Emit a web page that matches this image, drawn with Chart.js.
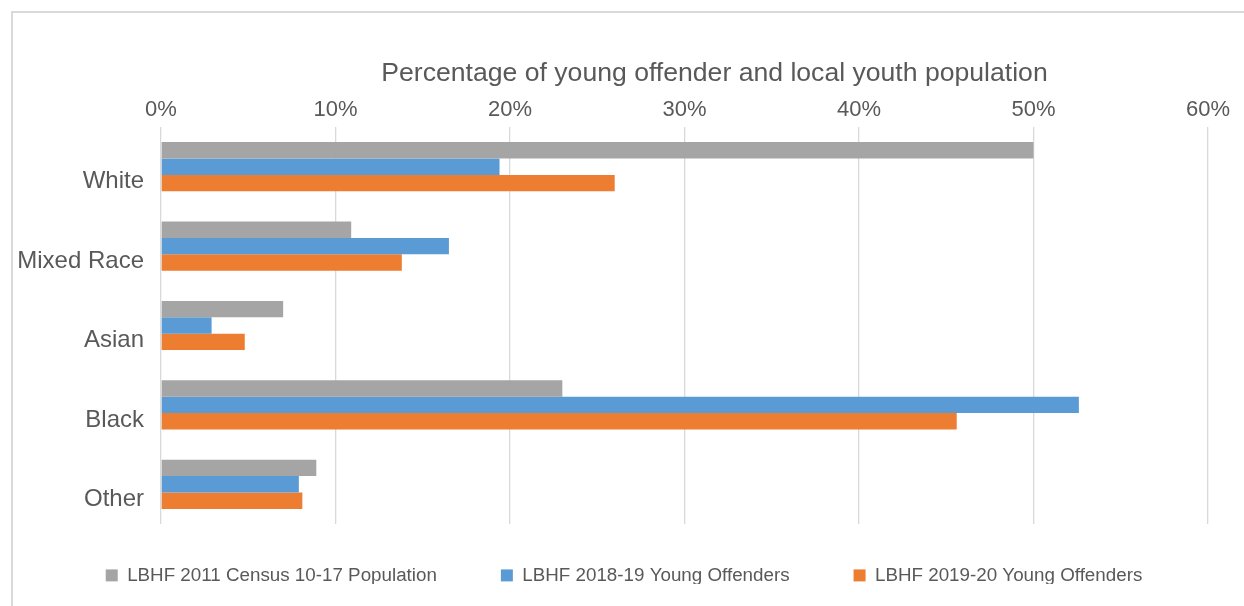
<!DOCTYPE html>
<html>
<head>
<meta charset="utf-8">
<script src="https://cdn.jsdelivr.net/npm/chart.js@4.4.1/dist/chart.umd.min.js"></script>
<style>
  html, body { margin: 0; padding: 0; background: #fff; }
  #wrap { position: relative; width: 1244px; height: 606px; overflow: hidden; }
  /* the light frame round the chart, cut off on the right and bottom like the original */
  #frame { position: absolute; left: 11px; top: 11px; width: 1300px; height: 700px;
           border: 2px solid #d9d9d9; box-sizing: border-box; }
  #chart { position: absolute; left: 0; top: 0; }
</style>
</head>
<body>
<div id="wrap">
  <div id="frame"></div>
  <canvas id="chart" width="1244" height="606"></canvas>
</div>
<script>
// ---- data (percent) ----
const categories = ['White', 'Mixed Race', 'Asian', 'Black', 'Other'];
const census2011 = [50.0, 10.9, 7.0, 23.0, 8.9];
const offenders1819 = [19.4, 16.5, 2.9, 52.6, 7.9];
const offenders1920 = [26.0, 13.8, 4.8, 45.6, 8.1];
const seriesLabels = [
  'LBHF 2011 Census 10-17 Population',
  'LBHF 2018-19 Young Offenders',
  'LBHF 2019-20 Young Offenders'
];
const xTicks = [0, 10, 20, 30, 40, 50, 60];
const chartTitleText = 'Percentage of young offender and local youth population';

const FONT = '"Liberation Sans", Arial, sans-serif';
const TEXT = '#595959';

// title is drawn a bit right of centre, as in the original
const chartTitle = {
  id: 'chartTitle',
  afterDraw(chart) {
    const { ctx, chartArea } = chart;
    ctx.save();
    ctx.font = '26.6px ' + FONT;
    ctx.fillStyle = TEXT;
    ctx.textAlign = 'center';
    ctx.textBaseline = 'middle';
    ctx.fillText(chartTitleText, (chartArea.left + chartArea.right) / 2 + 30, chartArea.top - 53);
    ctx.restore();
  }
};

// keep the legend a fixed height and drop its row to sit low, below the plot
const legendSpot = {
  id: 'legendSpot',
  beforeLayout(chart) {
    const legend = chart.legend;
    if (legend && !legend._patched) {
      const fit = legend.fit;
      legend.fit = function () {
        fit.call(this);
        this.height = 82;
      };
      legend._patched = true;
    }
  },
  afterLayout(chart) {
    const legend = chart.legend;
    const pad = legend.options.labels.padding;
    legend.top = 566 - pad;
    legend.bottom = legend.top + legend.height;
    legend.left += 20;
    legend.right += 20;
  }
};

new Chart(document.getElementById('chart'), {
  type: 'bar',
  data: {
    labels: categories,
    datasets: [
      { label: seriesLabels[0], data: census2011, backgroundColor: '#a5a5a5' },
      { label: seriesLabels[1], data: offenders1819, backgroundColor: '#5b9bd5' },
      { label: seriesLabels[2], data: offenders1920, backgroundColor: '#ed7d31' }
    ]
  },
  options: {
    indexAxis: 'y',
    responsive: false,
    animation: false,
    devicePixelRatio: 1,
    datasets: { bar: { categoryPercentage: 0.62, barPercentage: 1.0 } },
    layout: { padding: { left: 0, right: 36, top: 0, bottom: 0 } },
    scales: {
      x: {
        position: 'top',
        min: 0,
        max: 60,
        afterBuildTicks: s => { s.ticks = xTicks.map(v => ({ value: v })); },
        afterFit: s => { s.height = 127; },
        border: { display: false },
        grid: { color: '#d9d9d9', lineWidth: 1.3, drawTicks: false },
        ticks: {
          padding: 4,
          color: TEXT,
          font: { family: FONT, size: 22 },
          callback: v => v + '%'
        }
      },
      y: {
        afterFit: s => { s.width = 161; },
        border: { display: false },
        grid: { display: false },
        ticks: {
          padding: 9,
          labelOffset: 15,
          color: TEXT,
          font: { family: FONT, size: 24 }
        }
      }
    },
    plugins: {
      legend: {
        position: 'bottom',
        labels: {
          boxWidth: 12,
          boxHeight: 12,
          padding: 64,
          color: TEXT,
          font: { family: FONT, size: 18.8 }
        }
      },
      tooltip: { enabled: false }
    }
  },
  plugins: [chartTitle, legendSpot]
});
</script>
</body>
</html>
